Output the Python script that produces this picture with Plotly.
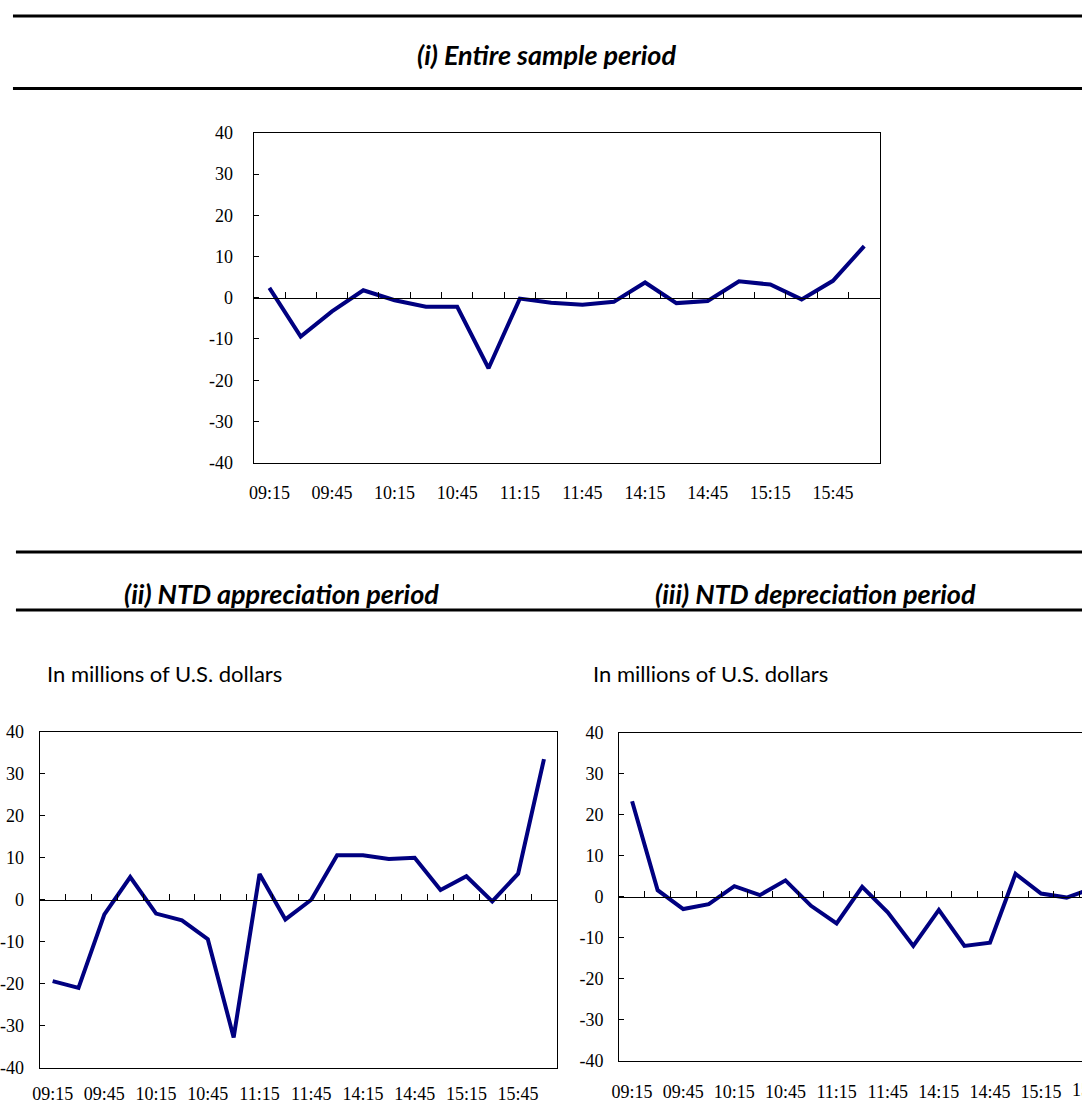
import plotly.graph_objects as go

# ---------------- data ----------------
times = ["09:15", "09:30", "09:45", "10:00", "10:15", "10:30", "10:45", "11:00",
         "11:15", "11:30", "11:45", "12:00", "14:15", "14:30", "14:45", "15:00",
         "15:15", "15:30", "15:45", "16:00"]
label_times = times[::2]

entire = [2.4, -9.4, -3.3, 1.8, -0.6, -2.2, -2.2, -17.1, -0.2, -1.2,
          -1.7, -1.0, 3.7, -1.3, -0.8, 4.0, 3.2, -0.4, 4.1, 12.5]
appreciation = [-19.4, -21.0, -3.5, 5.4, -3.3, -4.9, -9.4, -32.8, 6.1, -4.7,
                0.0, 10.6, 10.6, 9.7, 10.0, 2.3, 5.6, -0.4, 6.2, 33.5]
depreciation = [23.3, 1.6, -3.0, -1.8, 2.6, 0.4, 4.0, -2.2, -6.5, 2.4,
                -3.8, -12.0, -3.2, -12.0, -11.2, 5.6, 0.8, -0.2, 2.0]

titles = ["(i) Entire sample period", "(ii) NTD appreciation period",
          "(iii) NTD depreciation period"]
unit_text = "In millions of U.S. dollars"
y_ticks = [-40, -30, -20, -10, 0, 10, 20, 30, 40]

# ---------------- layout constants ----------------
W, H = 1082, 1113
LINE_COLOR = "#000080"
SERIF = "Liberation Serif, Times New Roman, serif"
SANS = "Lato, Open Sans, sans-serif"


def px_x(p):
    return p / W


def px_y(p):
    return 1 - p / H


# panel pixel boxes
panels = [
    dict(data=entire, l=246, r=878, t=125, b=461, rmax=19.5, mirror_y=True,
         ystand=16, xstand=14),
    dict(data=appreciation, l=30, r=552, t=735, b=1077, rmax=19.5, mirror_y=True,
         ystand=11, xstand=10),
    dict(data=depreciation, l=615, r=W, t=736, b=1070, rmax=17.6,
         mirror_y=False, ystand=11, xstand=15),
]

fig = go.Figure()
layout = dict(
    margin=dict(l=0, r=0, t=0, b=0),
    paper_bgcolor="white", plot_bgcolor="white",
    showlegend=False,
    shapes=[], annotations=[],
)

for i, p in enumerate(panels):
    n = i + 1
    xa = "x" if n == 1 else f"x{n}"
    ya = "y" if n == 1 else f"y{n}"
    tick_n = n + 3
    xt = f"x{tick_n}"
    xdom = [max(0, px_x(p["l"])), min(1, px_x(p["r"]))]
    ydom = [px_y(p["b"]), px_y(p["t"])]
    xs = times[:len(p["data"])]

    fig.add_trace(go.Scatter(
        x=xs, y=p["data"], xaxis=xa, yaxis=ya, mode="lines",
        line=dict(color=LINE_COLOR, width=4), hoverinfo="skip"))
    # invisible trace carrying the tick axis at y = 0
    fig.add_trace(go.Scatter(
        x=xs, y=p["data"], xaxis=xt, yaxis=ya, mode="lines",
        line=dict(color="rgba(0,0,0,0)", width=0), hoverinfo="skip"))

    rng = [-0.5, p["rmax"]]
    layout[f"xaxis{'' if n == 1 else n}"] = dict(
        domain=xdom, anchor=ya, type="category", categoryorder="array",
        categoryarray=times, range=rng, tickmode="array", tickvals=label_times,
        ticktext=label_times, ticks="", showline=True, mirror=True,
        linecolor="black", linewidth=1.2, showgrid=False, zeroline=False,
        tickfont=dict(family=SERIF, size=18, color="black"),
        ticklabelstandoff=p["xstand"], fixedrange=True)
    layout[f"yaxis{'' if n == 1 else n}"] = dict(
        domain=ydom, anchor=xa, range=[-40, 40], tickmode="array",
        tickvals=y_ticks, ticktext=[str(v) for v in y_ticks],
        ticks="inside", ticklen=5, tickcolor="black",
        showline=True, mirror=p["mirror_y"], linecolor="black", linewidth=1.2,
        showgrid=False, zeroline=False,
        tickfont=dict(family=SERIF, size=18, color="black"),
        ticklabelstandoff=p["ystand"], fixedrange=True)
    zero_pos = ydom[0] + (0 - (-40)) / 80 * (ydom[1] - ydom[0])
    layout[f"xaxis{tick_n}"] = dict(
        overlaying=xa, anchor="free", position=zero_pos, side="bottom",
        type="category", categoryorder="array", categoryarray=times,
        range=rng, tickson="boundaries", ticks="inside", ticklen=6,
        tickcolor="black", showticklabels=False, showline=True,
        linecolor="black", linewidth=1.2, showgrid=False, zeroline=False,
        fixedrange=True)

    # partially visible label beyond the right edge of panel (iii)
    if p["rmax"] < len(times) - 0.5:
        idx = len(times) - 2
        frac = (idx - rng[0]) / (rng[1] - rng[0])
        ax_px = p["l"] + frac * (p["r"] - p["l"])
        layout["annotations"].append(dict(
            xref="paper", yref="paper", x=px_x(ax_px), y=px_y(1100),
            text=times[idx], showarrow=False, xanchor="center", yanchor="middle",
            font=dict(family=SERIF, size=18, color="black")))

# horizontal rules (page y, page x start)
for yy, x0 in [(6, 3), (80, 3), (552, 6), (611, 6)]:
    layout["shapes"].append(dict(
        type="line", xref="paper", yref="paper", x0=px_x(x0), x1=1,
        y0=px_y(yy), y1=px_y(yy), line=dict(color="black", width=3)))

# section titles
for txt, cx, cy in [(titles[0], 541, 45), (titles[1], 274, 594), (titles[2], 813, 594)]:
    layout["annotations"].append(dict(
        xref="paper", yref="paper", x=px_x(cx), y=px_y(cy), text=f"<b><i>{txt}</i></b>",
        showarrow=False, xanchor="center", yanchor="middle",
        font=dict(family=SANS, size=27, color="black")))

# unit labels
for lx in [35, 586]:
    layout["annotations"].append(dict(
        xref="paper", yref="paper", x=px_x(lx), y=px_y(676), text=unit_text,
        showarrow=False, xanchor="left", yanchor="middle",
        font=dict(family=SANS, size=22, color="black")))

fig.update_layout(**layout)
# figure sized by its container, pinned to the page origin
fig.write_html(
    "out.html", config={"displayModeBar": False},
    default_width=f"{W}px; position:absolute; left:0px; top:0px",
    default_height=f"{H}px")
